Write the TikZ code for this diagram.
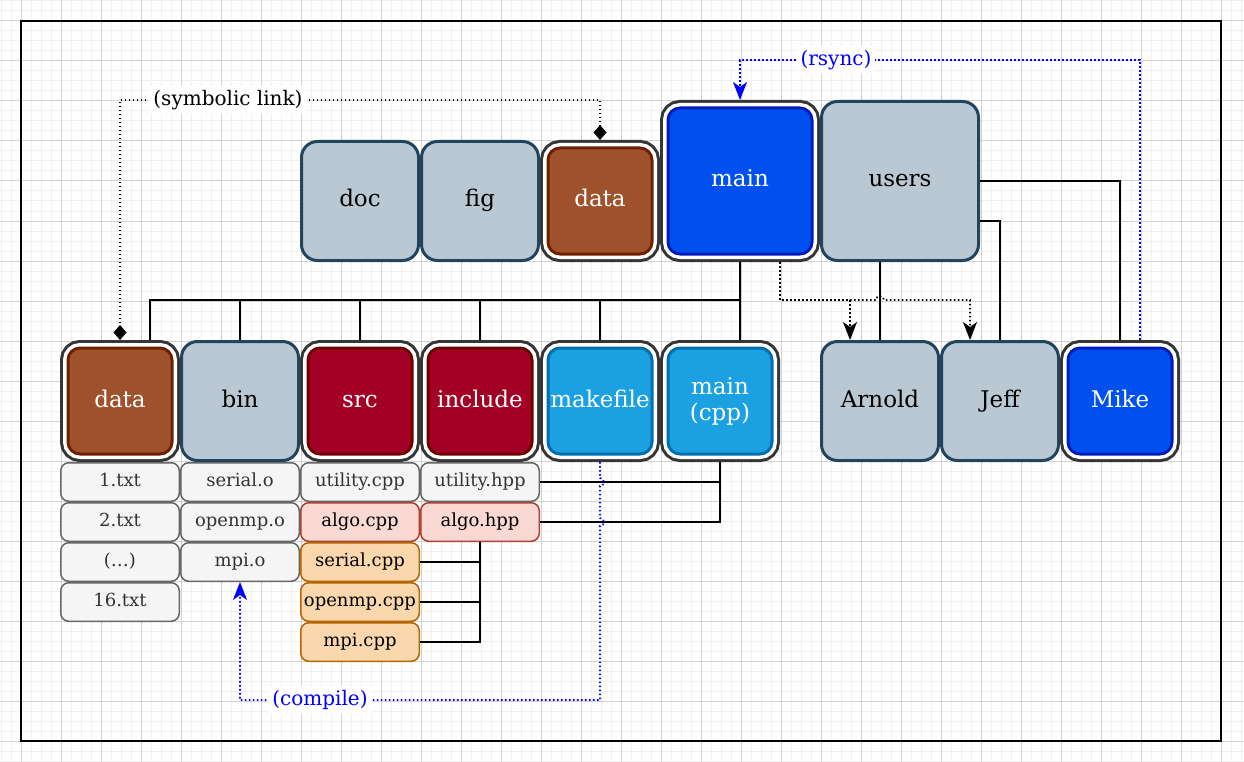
\documentclass[tikz,border=0pt]{standalone}
\usepackage{fontspec}
\setmainfont{DejaVu Serif}
\usetikzlibrary{positioning, arrows.meta}
\usepackage{xcolor}

\definecolor{slatef}{HTML}{BAC8D3}
\definecolor{slated}{HTML}{23445D}
\definecolor{brownf}{HTML}{A0522D}
\definecolor{brownd}{HTML}{6D1F00}
\definecolor{bluef}{HTML}{0050EF}
\definecolor{blued}{HTML}{001DBC}
\definecolor{redf}{HTML}{A20025}
\definecolor{redd}{HTML}{6F0000}
\definecolor{cyanf}{HTML}{1BA1E2}
\definecolor{cyand}{HTML}{006EAF}
\definecolor{grayf}{HTML}{F5F5F5}
\definecolor{grayd}{HTML}{666666}
\definecolor{graytext}{HTML}{333333}
\definecolor{pinkf}{HTML}{FAD9D5}
\definecolor{pinkd}{HTML}{AE4132}
\definecolor{orangef}{HTML}{FAD7AC}
\definecolor{oranged}{HTML}{B46504}
\definecolor{ring}{HTML}{363636}
\definecolor{gridminor}{HTML}{F0F0F0}
\definecolor{gridmajor}{HTML}{D2D2D2}
\definecolor{linkblue}{HTML}{0000FF}

\newcommand\boxfont{\fontsize{23}{26}\selectfont}
\newcommand\filefont{\fontsize{18}{21}\selectfont}
\newcommand\tagfont{\fontsize{20}{23}\selectfont}

\begin{document}
\begin{tikzpicture}[x=1pt, y=-1pt,
    folder/.style={draw=slated, fill=slatef, line width=3pt, rounded corners=16pt,
        minimum width=117pt, minimum height=119pt, inner sep=0pt, font=\boxfont,
        text height=17pt, text depth=5pt},
    ringbox/.style={line width=3pt, rounded corners=12pt, minimum width=104pt,
        minimum height=106pt, outer sep=8pt, inner sep=0pt, text=white, font=\boxfont,
        text height=17pt, text depth=5pt,
        preaction={draw=ring, line width=16pt},
        preaction={draw=white, line width=10pt}},
    file/.style={draw=grayd, fill=grayf, text=graytext, line width=1.5pt, rounded corners=8pt,
        minimum width=118.5pt, minimum height=38.5pt, inner sep=0pt, font=\filefont,
        text height=13pt, text depth=4pt},
    algo/.style={file, draw=pinkd, fill=pinkf, text=black},
    impl/.style={file, draw=oranged, fill=orangef, text=black},
    wire/.style={line width=2pt},
    link/.style={line width=1.6pt, dash pattern=on 1.6pt off 2.4pt},
    blink/.style={link, draw=linkblue},
    tip/.style={-{Stealth[length=18pt, width=14pt, inset=5pt]}},
    tag/.style={fill=white, inner sep=4pt, font=\tagfont}]

    \useasboundingbox (0,0) rectangle (1244,762);
    % background grid and frame
    \fill[white] (0,0) rectangle (1244,762);
    \draw[gridminor, line width=1pt, shift={(1,1)}] (-1,-1) grid[step=10pt] (1243,761);
    \draw[gridmajor, line width=1pt, shift={(21,21)}] (-21,-21) grid[step=40pt] (1223,741);
    \draw[line width=2pt] (21,21) rectangle (1221,741);

    % top level
    \node[folder] (doc) at (360,201) {doc};
    \node[folder] (fig) at (480,201) {fig};
    \node[ringbox, fill=brownf, draw=brownd] (datatop) at (600,201) {data};
    \node[ringbox, fill=bluef, draw=blued, minimum width=144pt, minimum height=146pt] (main) at (740,181) {main};
    \node[folder, minimum width=157pt, minimum height=159pt] (users) at (900,181) {users};

    % second level
    \node[ringbox, fill=brownf, draw=brownd] (data) at (120,401) {data};
    \node[folder] (bin) at (240,401) {bin};
    \node[ringbox, fill=redf, draw=redd] (src) at (360,401) {src};
    \node[ringbox, fill=redf, draw=redd] (include) at (480,401) {include};
    \node[ringbox, fill=cyanf, draw=cyand] (makefile) at (600,401) {makefile};
    \node[ringbox, fill=cyanf, draw=cyand, align=center, text height=43pt] (maincpp) at (720,401) {main\\(cpp)};
    \node[folder] (arnold) at (880,401) {Arnold};
    \node[folder] (jeff) at (1000,401) {Jeff};
    \node[ringbox, fill=bluef, draw=blued] (mike) at (1120,401) {Mike};

    % files
    \foreach \t [count=\i] in {{1.txt}, {2.txt}, {(…)}, {16.txt}}
        \node[file] (txt\i) at (120,442+40*\i) {\t};
    \foreach \t [count=\i] in {{serial.o}, {openmp.o}, {mpi.o}}
        \node[file] (obj\i) at (240,442+40*\i) {\t};
    \node[file] (utilcpp) at (360,482) {utility.cpp};
    \node[algo] (algocpp) at (360,522) {algo.cpp};
    \node[impl] (serialcpp) at (360,562) {serial.cpp};
    \node[impl] (ompcpp) at (360,602) {openmp.cpp};
    \node[impl] (mpicpp) at (360,642) {mpi.cpp};
    \node[file] (utilhpp) at (480,482) {utility.hpp};
    \node[algo] (algohpp) at (480,522) {algo.hpp};

    % tree
    \coordinate (tree) at (740,300);
    \draw[wire] (main) -- (tree) -- (tree |- maincpp.north);
    \draw[wire] (tree) -| ([xshift=30pt]data.north);
    \foreach \n in {bin, src, include, makefile}
        \draw[wire] (tree) -| (\n.north);
    \draw[wire] (arnold.north |- users.south) -- (arnold.north);
    \draw[wire] (users.east) -| (mike.north);
    \draw[wire] ([yshift=-40pt]users.east) -| (jeff.north);
    \draw[wire] (maincpp.south) |- (utilhpp.east);
    \draw[wire] (maincpp.south) |- (algohpp.east);
    \foreach \n in {serialcpp, ompcpp, mpicpp}
        \draw[wire] (algohpp.south) |- (\n.east);

    % dotted links
    \draw[link, tip] ([xshift=40pt]main.south) |- (850,300) -- ([xshift=-30pt]arnold.north);
    \draw[link, tip] (850,300) -- (876,300)
        arc[start angle=180, end angle=360, radius=4] -| ([xshift=-30pt]jeff.north);

    \coordinate (symturn) at (120,100);
    \draw[link, {Diamond[length=15pt, width=13pt]}-{Diamond[length=15pt, width=13pt]}]
        (datatop.north) |- (symturn) -- (data.north);
    \node[tag] (symlab) at (228,100) {(symbolic link)};

    \coordinate (rsyncturn) at (1140,60);
    \draw[blink, tip, linkblue] ([xshift=20pt]mike.north) -- (rsyncturn) -| (main.north);
    \node[tag, text=linkblue] (rsync) at (836,60) {(rsync)};

    \draw[blink, tip, linkblue] (makefile.south) -- (600,478)
        arc[start angle=270, end angle=450, radius=4] -- (600,518)
        arc[start angle=270, end angle=450, radius=4] -- (600,700) -| (obj3.south);
    \node[tag, text=linkblue] (compile) at (320,700) {(compile)};
\end{tikzpicture}
\end{document}
